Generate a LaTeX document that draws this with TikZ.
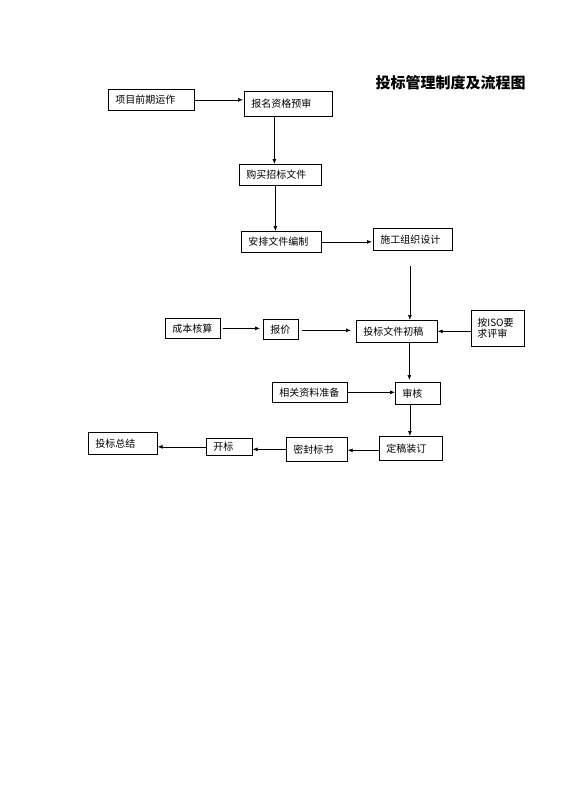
\documentclass[tikz,border=0pt]{standalone}
\usepackage{fontspec}
\newfontfamily\cjk{Noto Sans CJK SC}
\usepackage{tikz}
\usetikzlibrary{positioning, arrows.meta}

\begin{document}
\begin{tikzpicture}
              [x=1pt, y=-1pt,
               box/.style={draw, thin, line width=.7pt, rectangle, anchor=north west,
                 inner xsep=7pt, inner ysep=0pt, align=left,
                 font=\cjk\fontsize{10}{11}\selectfont},
               flow/.style={-{Latex[length=5pt, width=4pt]}, line width=.7pt}]
              \useasboundingbox (0,0) rectangle (560,792);
              % title %
              \node[anchor=west, font=\cjk\bfseries\fontsize{15}{17}\selectfont] (title) at (372,83) {投标管理制度及流程图};

              % nodes %
              \node[box, text width=72pt, minimum height=21pt] (xm) at (108,89) {项目前期运作};
              \node[box, text width=74pt, minimum height=25pt] (bm) at (244,91) {报名资格预审};
              \node[box, text width=68pt, minimum height=21pt] (gm) at (239,164) {购买招标文件};
              \node[box, text width=66pt, minimum height=21pt] (ap) at (241,231) {安排文件编制};
              \node[box, text width=65pt, minimum height=22pt] (sg) at (373,228) {施工组织设计};
              \node[box, text width=41pt, minimum height=20pt] (cb) at (165,318) {成本核算};
              \node[box, text width=21pt, minimum height=20pt] (bj) at (263,319) {报价};
              \node[box, text width=67pt, minimum height=22pt] (cg) at (356,320) {投标文件初稿};
              \node[box, text width=41pt, minimum height=36pt, inner xsep=6pt] (iso) at (471,310) {按ISO要\\求评审};
              \node[box, text width=61pt, minimum height=20pt] (zl) at (272,382) {相关资料准备};
              \node[box, text width=31pt, minimum height=22pt] (sh) at (395,382) {审核};
              \node[box, text width=49pt, minimum height=24pt] (dg) at (379,436) {定稿装订};
              \node[box, text width=47pt, minimum height=24pt] (mf) at (286,437) {密封标书};
              \node[box, text width=32pt, minimum height=17pt] (kb) at (206,438) {开标};
              \node[box, text width=55pt, minimum height=22pt] (zj) at (88,432) {投标总结};

              % edges %
              \draw[flow, shorten >=1pt] (xm.east) -- (xm.east -| bm.west);
              \draw[flow] ([xshift=-14pt]bm.south) -- ([xshift=-14pt]bm.south |- gm.north);
              \draw[flow] ([xshift=-5pt]gm.south) -- ([xshift=-5pt]gm.south |- ap.north);
              \draw[flow, shorten >=1pt] (ap.east) -- (ap.east -| sg.west);
              \draw[flow] ([xshift=-3pt, yshift=-15pt]sg.south) -- ([xshift=-3pt]sg.south |- cg.north);
              \draw[flow, shorten <=2pt, shorten >=3pt] (cb.east) -- (cb.east -| bj.west);
              \draw[flow, shorten <=3pt, shorten >=5pt] ([yshift=-1pt]bj.east) -- ([yshift=-1pt]bj.east -| cg.west);
              \draw[flow] (iso.west |- cg.east) -- (cg.east);
              \draw[flow, shorten >=2pt] ([xshift=12.5pt]cg.south) -- ([xshift=12.5pt]cg.south |- sh.north);
              \draw[flow] (zl.east) -- (zl.east -| sh.west);
              \draw[flow] ([xshift=-8pt]sh.south) -- ([xshift=-8pt]sh.south |- dg.north);
              \draw[flow] ([yshift=-2pt]dg.west) -- ([yshift=-2pt]dg.west -| mf.east);
              \draw[flow] (mf.west) -- (mf.west -| kb.east);
              \draw[flow] (kb.west) -- (kb.west -| zj.east);
            \end{tikzpicture}
\end{document}
